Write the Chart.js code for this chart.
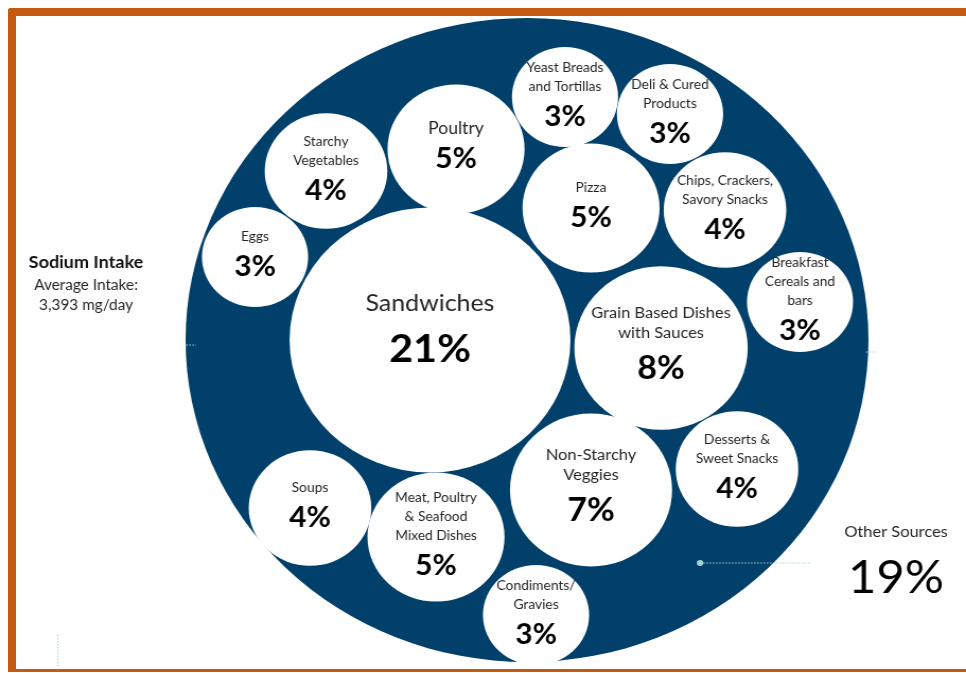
<!DOCTYPE html>
<html>
<head>
<meta charset="utf-8">
<title>Sodium Intake</title>
<script src="https://cdn.jsdelivr.net/npm/chart.js@4.4.1/dist/chart.umd.min.js"></script>
<style>
  html, body { margin: 0; padding: 0; background: #fff; }
  body { width: 966px; height: 673px; position: relative; overflow: hidden; }
  #frame {
    position: absolute; left: 8px; top: 8px; width: 958px; height: 664px;
    box-sizing: border-box;
    border-left: 8px solid #c55a11; border-top: 8px solid #c55a11; border-bottom: 3px solid #c55a11;
    border-top-left-radius: 3px;
  }
  /* the chart is drawn a bit narrower and widened afterwards, so the circles come out slightly oval */
  #wrap { position: absolute; left: 0; top: 0; width: 911px; height: 673px; transform: scaleX(1.0604); transform-origin: 0 0; }
</style>
</head>
<body>
<div id="frame"></div>
<div id="wrap"><canvas id="chart"></canvas></div>
<script>
const categories = [
  ['Sandwiches'],
  ['Grain Based Dishes', 'with Sauces'],
  ['Non-Starchy', 'Veggies'],
  ['Poultry'],
  ['Pizza'],
  ['Meat, Poultry', '& Seafood', 'Mixed Dishes'],
  ['Starchy', 'Vegetables'],
  ['Chips, Crackers,', 'Savory Snacks'],
  ['Desserts &', 'Sweet Snacks'],
  ['Soups'],
  ['Eggs'],
  ['Yeast Breads', 'and Tortillas'],
  ['Deli & Cured', 'Products'],
  ['Breakfast', 'Cereals and', 'bars'],
  ['Condiments/', 'Gravies']
];
const shares = [21, 8, 7, 5, 5, 5, 4, 4, 4, 4, 3, 3, 3, 3, 3];
const otherShare = 19;
const averageIntake = 3393;

// where each bubble sits in the packing (chart units)
const packX = [430, 661, 591, 456, 591, 436, 326, 725, 737, 310, 255, 565, 670, 800, 536];
const packY = [340, 348, 490, 149, 208, 537, 171, 210, 469, 508, 257, 97, 114, 302, 615];
const ringCenter = { x: 527, y: 340 };
const ringRadius = 322;
const bubbleScale = 28.9; // bubble radius per sqrt(percent)

const FONT = 'Lato, "Open Sans", sans-serif';
const bigLabel = { 'Poultry': 16.5 };

function textStyle(r) {
  if (r >= 100) return { label: 23.5, value: 39, lineH: 24, gap: 46, shift: 14 };
  if (r >= 75) return { label: 15.5, value: 32, lineH: 20, gap: 36, shift: 7 };
  return { label: 13, value: 28, lineH: 19, gap: 30, shift: 5 };
}

const bubbleText = {
  id: 'bubbleText',
  afterDatasetsDraw(chart) {
    const ctx = chart.ctx;
    const sx = v => chart.scales.x.getPixelForValue(v);
    const sy = v => chart.scales.y.getPixelForValue(v);
    const meta = chart.getDatasetMeta(0);
    ctx.save();
    ctx.textAlign = 'center';
    ctx.textBaseline = 'middle';
    meta.data.forEach((pt, i) => {
      const lines = categories[i];
      const t = textStyle(pt.options.radius);
      const size = bigLabel[lines[0]] || t.label;
      let y = pt.y - (t.gap + t.lineH * (lines.length - 1)) / 2 - t.shift;
      ctx.fillStyle = '#262626';
      ctx.font = size + 'px ' + FONT;
      lines.forEach(s => { ctx.fillText(s, pt.x, y); y += t.lineH; });
      y += t.gap - t.lineH;
      ctx.fillStyle = '#000';
      ctx.font = 'bold ' + t.value + 'px ' + FONT;
      ctx.fillText(shares[i] + '%', pt.x, y);
    });

    // title block on the left
    ctx.fillStyle = '#111';
    ctx.font = 'bold 17px ' + FONT;
    ctx.fillText('Sodium Intake', sx(86), sy(263));
    ctx.fillStyle = '#262626';
    ctx.font = '14.5px ' + FONT;
    ctx.fillText('Average Intake:', sx(86), sy(285));
    ctx.fillText(averageIntake.toLocaleString('en-US') + ' mg/day', sx(86), sy(305));

    // remainder of the ring
    ctx.font = '15.5px ' + FONT;
    ctx.fillText('Other Sources', sx(896), sy(532));
    ctx.fillStyle = '#000';
    ctx.font = '46px ' + FONT;
    ctx.fillText(otherShare + '%', sx(896), sy(578));

    // faint dotted leaders
    ctx.strokeStyle = '#9fd6d2';
    ctx.lineWidth = 1;
    ctx.setLineDash([1.5, 1.5]);
    ctx.beginPath();
    ctx.moveTo(sx(700), sy(563)); ctx.lineTo(sx(810), sy(563));
    ctx.moveTo(sx(186), sy(345)); ctx.lineTo(sx(196), sy(345));
    ctx.moveTo(sx(866), sy(352)); ctx.lineTo(sx(876), sy(352));
    ctx.moveTo(sx(58), sy(635)); ctx.lineTo(sx(58), sy(670));
    ctx.stroke();
    ctx.setLineDash([]);
    ctx.fillStyle = '#9fd6d2';
    ctx.beginPath();
    ctx.arc(sx(700), sy(563), 3, 0, Math.PI * 2);
    ctx.fill();
    ctx.restore();
  }
};

new Chart(document.getElementById('chart'), {
  type: 'bubble',
  data: {
    datasets: [
      {
        label: 'Food categories',
        // bubble area proportional to the share
        data: shares.map((v, i) => ({ x: packX[i], y: packY[i], r: bubbleScale * Math.sqrt(v) })),
        backgroundColor: '#ffffff',
        borderWidth: 0,
        order: 1
      },
      {
        label: 'Sodium Intake',
        data: [{ x: ringCenter.x, y: ringCenter.y, r: ringRadius }],
        backgroundColor: '#00406b',
        borderWidth: 0,
        order: 2
      }
    ]
  },
  options: {
    responsive: true,
    maintainAspectRatio: false,
    animation: false,
    events: [],
    layout: { padding: 0, autoPadding: false },
    scales: {
      x: { type: 'linear', min: 0, max: 966, display: false },
      y: { type: 'linear', min: 0, max: 673, reverse: true, display: false }
    },
    plugins: {
      legend: { display: false },
      tooltip: { enabled: false }
    }
  },
  plugins: [bubbleText]
});
</script>
</body>
</html>
